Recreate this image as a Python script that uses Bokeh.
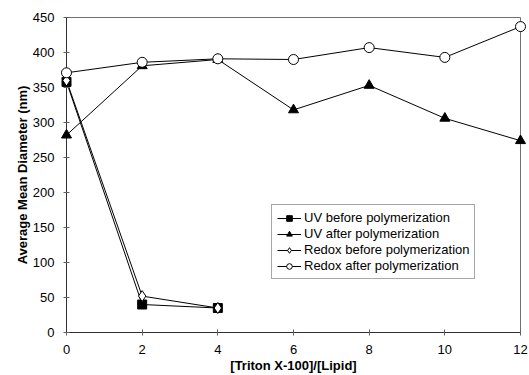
from bokeh.plotting import figure
from bokeh.models import Range1d, Legend, LegendItem, FixedTicker
from bokeh.embed import file_html
from bokeh.resources import INLINE

x_vals = [0, 2, 4, 6, 8, 10, 12]
uv_before_x = [0, 2, 4]
uv_before = [358, 40, 35]
uv_after = [282, 381, 390, 318, 353, 306, 274]
redox_before_x = [0, 2, 4]
redox_before = [360, 52, 35]
redox_after = [371, 386, 391, 390, 407, 393, 437]
x_ticks = [0, 2, 4, 6, 8, 10, 12]
y_ticks = [0, 50, 100, 150, 200, 250, 300, 350, 400, 450]

FONT = "Liberation Sans"

p = figure(width=529, height=375, output_backend="svg", toolbar_location=None,
           x_range=Range1d(0, 12), y_range=Range1d(0, 450),
           min_border_left=66, min_border_right=9, min_border_top=17, min_border_bottom=40)
p.grid.visible = False
p.outline_line_color = "#707070"
p.outline_line_width = 1
p.background_fill_color = "white"
p.border_fill_color = "white"

p.xaxis.ticker = FixedTicker(ticks=x_ticks)
p.yaxis.ticker = FixedTicker(ticks=y_ticks)
for ax in (p.xaxis, p.yaxis):
    ax.major_tick_in = 3
    ax.major_tick_out = 3
    ax.minor_tick_in = 0
    ax.minor_tick_out = 0
    ax.axis_line_color = "#303030"
    ax.major_tick_line_color = "#606060"
    ax.major_label_text_font = FONT
    ax.major_label_text_font_size = "13px"
    ax.major_label_text_color = "black"
    ax.axis_label_text_font = FONT
    ax.axis_label_text_font_size = "13px"
    ax.axis_label_text_font_style = "bold"
    ax.axis_label_text_color = "black"
p.xaxis.axis_label = "[Triton X-100]/[Lipid]"
p.yaxis.axis_label = "Average Mean Diameter (nm)"
p.xaxis.major_label_standoff = 9
p.yaxis.major_label_standoff = 9
p.xaxis.axis_label_standoff = 1
p.yaxis.axis_label_standoff = 0

l1 = p.line(uv_before_x, uv_before, line_color="black", line_width=1)
m1 = p.scatter(uv_before_x, uv_before, marker="square", size=9, fill_color="black",
               line_color="black", level="overlay")
l2 = p.line(x_vals, uv_after, line_color="black", line_width=1)
m2 = p.scatter(x_vals, uv_after, marker="triangle", size=10, fill_color="black",
               line_color="black", level="overlay")
l3 = p.line(redox_before_x, redox_before, line_color="black", line_width=1)
m3 = p.scatter(redox_before_x, redox_before, marker="diamond", size=11, fill_color="white",
               line_color="black", level="overlay")
l4 = p.line(x_vals, redox_after, line_color="black", line_width=1)
m4 = p.scatter(x_vals, redox_after, marker="circle", size=10, fill_color="white",
               line_color="black", level="overlay")

legend = Legend(items=[
    LegendItem(label="UV before polymerization", renderers=[l1, m1]),
    LegendItem(label="UV after polymerization", renderers=[l2, m2]),
    LegendItem(label="Redox before polymerization", renderers=[l3, m3]),
    LegendItem(label="Redox after polymerization", renderers=[l4, m4]),
], location=(205, 53))
legend.label_text_font = FONT
legend.label_text_font_size = "13px"
legend.label_text_color = "black"
legend.glyph_height = 14
legend.glyph_width = 24
legend.label_height = 14
legend.label_standoff = 3
legend.spacing = 1
legend.padding = 5
legend.margin = 0
legend.border_line_color = "#505050"
legend.border_line_width = 1
legend.background_fill_color = "white"
legend.background_fill_alpha = 1
p.add_layout(legend, "center")

open("out.html", "w").write(file_html(p, INLINE))
